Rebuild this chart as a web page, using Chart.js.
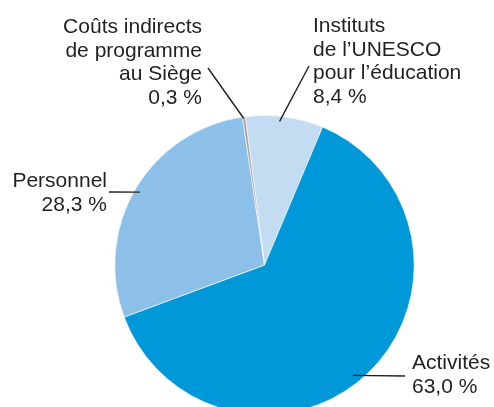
<!DOCTYPE html>
<html>
<head>
<meta charset="utf-8">
<script src="https://cdn.jsdelivr.net/npm/chart.js@4"></script>
<style>
  html, body { margin: 0; padding: 0; background: #fff; }
  #wrap { width: 494px; height: 407px; overflow: hidden; position: relative; }
  #wrap canvas { display: block; }
</style>
</head>
<body>
<div id="wrap"><canvas id="budgetPie" width="494" height="430"></canvas></div>
<script>
// slices, clockwise from the top-left start
const categories = ['Instituts de l’UNESCO pour l’éducation', 'Activités', 'Personnel', 'Coûts indirects de programme au Siège'];
const shares = [8.4, 63.0, 28.3, 0.3];
const shareLabels = ['8,4 %', '63,0 %', '28,3 %', '0,3 %'];
const sliceColors = ['#c4dcf2', '#0098d8', '#8dc0e8', '#a3a3a3'];

// text lines for each label (last line is the share)
const labelLines = [
  ['Instituts', 'de l’UNESCO', 'pour l’éducation'],
  ['Activités'],
  ['Personnel'],
  ['Coûts indirects', 'de programme', 'au Siège']
];

// where the labels sit and where their leader lines go (angle in deg from top, clockwise)
const labelLayout = [
  { x: 313, y: 32, align: 'left', from: [309, 66], angle: 6, rf: 0.965 },
  { x: 412, y: 369, align: 'left', from: [405, 376], angle: 141.3, rf: 0.945 },
  { x: 107, y: 187, align: 'right', from: [109, 192], angle: -59.7, rf: 0.965 },
  { x: 202, y: 33, align: 'right', from: [208, 68], angle: -8.1, rf: 0.99 }
];

const leaderLabels = {
  id: 'leaderLabels',
  afterDatasetsDraw(chart) {
    const ctx = chart.ctx;
    const arc = chart.getDatasetMeta(0).data[0];
    const cx = arc.x, cy = arc.y, r = arc.outerRadius;
    ctx.save();
    ctx.font = '21px "Liberation Sans", Arial, sans-serif';
    ctx.fillStyle = '#231f20';
    ctx.strokeStyle = '#231f20';
    ctx.lineWidth = 1.4;
    ctx.textBaseline = 'alphabetic';
    labelLayout.forEach((l, i) => {
      const a = l.angle * Math.PI / 180;
      const ex = cx + Math.sin(a) * r * l.rf;
      const ey = cy - Math.cos(a) * r * l.rf;
      ctx.beginPath();
      ctx.moveTo(l.from[0], l.from[1]);
      ctx.lineTo(ex, ey);
      ctx.stroke();
      ctx.textAlign = l.align;
      const lines = labelLines[i].concat(shareLabels[i]);
      lines.forEach((t, j) => ctx.fillText(t, l.x, l.y + j * 23.7));
    });
    ctx.restore();
  }
};

new Chart(document.getElementById('budgetPie'), {
  type: 'pie',
  data: {
    labels: categories,
    datasets: [{
      data: shares,
      backgroundColor: sliceColors,
      borderColor: '#ffffff',
      borderWidth: 0.6
    }]
  },
  options: {
    responsive: false,
    animation: false,
    rotation: -7.4,
    layout: { padding: { left: 114, right: 79, top: 115, bottom: 15 } },
    plugins: {
      legend: { display: false },
      tooltip: { enabled: false }
    }
  },
  plugins: [leaderLabels]
});
</script>
</body>
</html>
